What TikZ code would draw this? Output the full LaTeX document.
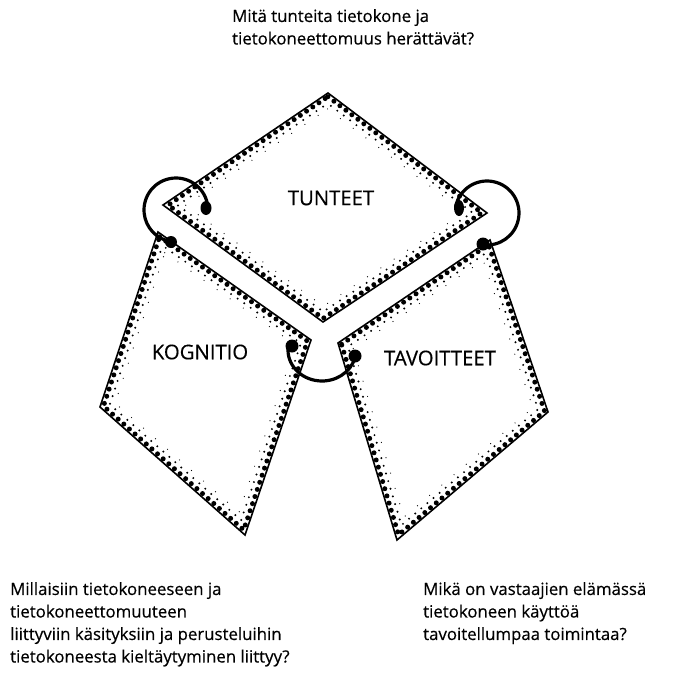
\documentclass[tikz,border=0pt]{standalone}
\usepackage{fontspec}
\setmainfont{Open Sans}[FakeBold=0.4]
\usetikzlibrary{calc}
% inset polygon of a clockwise quadrilateral
\newcommand\insetquad[6]{%
  \coordinate (#6a1) at ($(#1)!#5!-90:(#2)$); \coordinate (#6b1) at ($(#2)!#5!90:(#1)$);
  \coordinate (#6a2) at ($(#2)!#5!-90:(#3)$); \coordinate (#6b2) at ($(#3)!#5!90:(#2)$);
  \coordinate (#6a3) at ($(#3)!#5!-90:(#4)$); \coordinate (#6b3) at ($(#4)!#5!90:(#3)$);
  \coordinate (#6a4) at ($(#4)!#5!-90:(#1)$); \coordinate (#6b4) at ($(#1)!#5!90:(#4)$);
  \coordinate (#6v1) at (intersection of #6a4--#6b4 and #6a1--#6b1);
  \coordinate (#6v2) at (intersection of #6a1--#6b1 and #6a2--#6b2);
  \coordinate (#6v3) at (intersection of #6a2--#6b2 and #6a3--#6b3);
  \coordinate (#6v4) at (intersection of #6a3--#6b3 and #6a4--#6b4);
}
\newcommand\htquad[5]{%
  \insetquad{#1}{#2}{#3}{#4}{3pt}{#5x}
  \insetquad{#1}{#2}{#3}{#4}{8.5pt}{#5y}
  \insetquad{#1}{#2}{#3}{#4}{13pt}{#5z}
  \draw[edgeline] (#1)--(#2)--(#3)--(#4)--cycle;
  \draw[bigdots] (#5xv1)--(#5xv2)--(#5xv3)--(#5xv4)--cycle;
  \draw[middots] (#5yv1)--(#5yv2)--(#5yv3)--(#5yv4)--cycle;
  \draw[smalldots] (#5zv1)--(#5zv2)--(#5zv3)--(#5zv4)--cycle;
}
\begin{document}
\begin{tikzpicture}[x=1pt,y=-1pt,
  edgeline/.style={line width=1.6pt, line join=miter},
  bigdots/.style={line width=5pt, line cap=round, dash pattern=on 0pt off 7.5pt},
  middots/.style={line width=2.2pt, line cap=round, dash pattern=on 0pt off 8pt, dash phase=4pt},
  smalldots/.style={line width=1.2pt, line cap=round, dash pattern=on 0pt off 16pt},
  loopline/.style={line width=3.2pt},
  blob/.style={fill=black},
  lbl/.style={font=\fontsize{20.3}{24}\selectfont, inner sep=0pt},
  qtext/.style={font=\fontsize{16.8}{22.5}\selectfont, align=left, inner sep=0pt, anchor=north west}]
\fill[white] (0,0) rectangle (687,699);
\useasboundingbox (0,0) rectangle (687,699);
% TUNTEET
\coordinate (T1) at (328,93);
\coordinate (T2) at (487,213);
\coordinate (T3) at (323,322);
\coordinate (T4) at (163,205);
% KOGNITIO
\coordinate (K1) at (158,232);
\coordinate (K2) at (311,340);
\coordinate (K3) at (245,535);
\coordinate (K4) at (100,407);
% TAVOITTEET
\coordinate (V1) at (338,343);
\coordinate (V2) at (490,240);
\coordinate (V3) at (548,412);
\coordinate (V4) at (397,540);
\htquad{T1}{T2}{T3}{T4}{T}
\htquad{K1}{K2}{K3}{K4}{K}
\htquad{V1}{V2}{V3}{V4}{V}
% loops
\coordinate (LLc) at (176,210);
\coordinate (RLc) at (487,213);
\coordinate (BLc) at (322,350);
\draw[loopline] ($(LLc)+(-6:32)$) arc[start angle=-6, end angle=-260, radius=32];
\fill[blob] (206,208) ellipse[x radius=5.5, y radius=7];
\fill[blob] (171,242) circle[radius=6];
\draw[loopline] ($(RLc)+(192:32)$) arc[start angle=192, end angle=457, radius=32];
\fill[blob] (459,208) ellipse[x radius=5, y radius=8];
\fill[blob] (483,244) circle[radius=6.5];
\draw[loopline] ($(BLc)+(186:34 and 31)$) arc[start angle=186, end angle=15, x radius=34, y radius=31];
\fill[blob] (292,346) circle[radius=6.5];
\fill[blob] (355,356) circle[radius=6.5];
% labels
\node[lbl] (tunteet) at (331,198) {TUNTEET};
\node[lbl] (kognitio) at (200,352) {KOGNITIO};
\node[lbl] (tavoitteet) at (440,358) {TAVOITTEET};
% questions
\node[qtext] (qtop) at (232,9) {Mitä tunteita tietokone ja\\tietokoneettomuus herättävät?};
\node[qtext] (qleft) at (10,582) {Millaisiin tietokoneeseen ja\\tietokoneettomuuteen\\liittyviin käsityksiin ja perusteluihin\\tietokoneesta kieltäytyminen liittyy?};
\node[qtext] (qright) at (423,582) {Mikä on vastaajien elämässä\\tietokoneen käyttöä\\tavoitellumpaa toimintaa?};
\end{tikzpicture}
\end{document}
